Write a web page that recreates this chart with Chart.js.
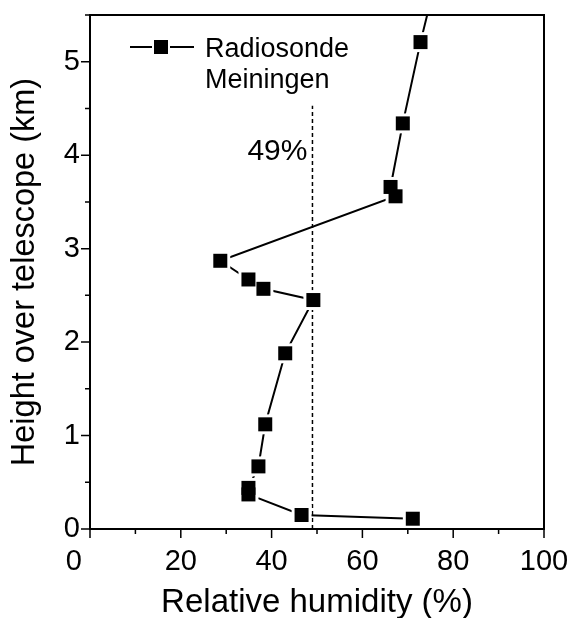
<!DOCTYPE html>
<html lang="en">
<head>
<meta charset="UTF-8">
<title>Relative humidity profile</title>
<style>
    html, body {
        margin: 0;
        padding: 0;
        background: #fff;
    }
    #wrap {
        width: 570px;
        height: 618px;
    }
</style>
</head>
<body>
<div id="wrap">
    <canvas id="humidityChart" width="570" height="618"></canvas>
</div>

<script src="https://cdn.jsdelivr.net/npm/chart.js"></script>
<script>
// radiosonde profile (first point lies above the frame)
const humidity = [76.8, 72.8, 68.9, 66.2, 67.3, 28.7, 34.9, 38.2, 49.2, 43.0, 38.6, 37.1, 34.9, 34.9, 46.6, 71.1];
const height   = [6.0, 5.21, 4.34, 3.66, 3.56, 2.87, 2.67, 2.57, 2.45, 1.88, 1.12, 0.67, 0.44, 0.37, 0.15, 0.11];

// 49 % reference line
const thresholdHumidity = 49;
const thresholdHeights = [0, 4.53];

const xLabels = [0, 20, 40, 60, 80, 100];
const yLabels = [0, 1, 2, 3, 4, 5];
const legendLines = ['Radiosonde', 'Meiningen'];

const FONT = "'Liberation Sans', Arial, Helvetica, sans-serif";

const profilePoints = humidity.map((h, i) => ({ x: h, y: height[i] }));
const thresholdPoints = thresholdHeights.map(v => ({ x: thresholdHumidity, y: v }));

// drop the label padding chart.js reserves, so the plot box is exactly where we want it
function noPadding(scale) {
    scale.paddingLeft = 0;
    scale.paddingRight = 0;
    scale.paddingTop = 0;
    scale.paddingBottom = 0;
}

// frame, outward ticks, legend and the 49% label
const decorations = {
    id: 'decorations',
    afterDatasetsDraw(chart) {
        const { ctx, chartArea: a, scales: { x, y } } = chart;
        ctx.save();
        ctx.strokeStyle = '#000';
        ctx.fillStyle = '#000';

        // frame
        ctx.lineWidth = 2;
        ctx.strokeRect(a.left, a.top, a.right - a.left, a.bottom - a.top);

        // tick marks, major ones longer
        ctx.lineWidth = 1.5;
        ctx.beginPath();
        x.ticks.forEach(t => {
            const px = x.getPixelForValue(t.value);
            const len = xLabels.includes(t.value) ? 9 : 5;
            ctx.moveTo(px, a.bottom);
            ctx.lineTo(px, a.bottom + len);
        });
        y.ticks.forEach(t => {
            const py = y.getPixelForValue(t.value);
            const len = yLabels.includes(t.value) ? 9 : 5;
            ctx.moveTo(a.left, py);
            ctx.lineTo(a.left - len, py);
        });
        ctx.stroke();

        // 49% label
        ctx.font = '30px ' + FONT;
        ctx.textAlign = 'right';
        ctx.textBaseline = 'middle';
        ctx.fillText(thresholdHumidity + '%', x.getPixelForValue(47.9), y.getPixelForValue(4.04));

        // legend
        const lx = a.left + 40, ly = a.top + 32;
        ctx.lineWidth = 2;
        ctx.beginPath();
        ctx.moveTo(lx, ly); ctx.lineTo(lx + 22, ly);
        ctx.moveTo(lx + 40, ly); ctx.lineTo(lx + 64, ly);
        ctx.stroke();
        ctx.fillRect(lx + 24, ly - 7, 14, 14);
        ctx.font = '27px ' + FONT;
        ctx.textAlign = 'left';
        ctx.textBaseline = 'alphabetic';
        legendLines.forEach((txt, i) => {
            ctx.fillText(txt, lx + 75, ly + 10 + i * 31);
        });
        ctx.restore();
    }
};

const ctx = document.getElementById('humidityChart').getContext('2d');
const humidityChart = new Chart(ctx, {
    type: 'scatter',
    data: {
        datasets: [{
            // black squares on top
            label: 'Radiosonde Meiningen',
            data: profilePoints,
            showLine: false,
            pointStyle: 'rect',
            pointRadius: 9.9,
            pointBackgroundColor: '#000',
            pointBorderWidth: 0,
            order: 0
        }, {
            // white halo that opens a small gap in the line around each square
            label: 'halo',
            data: profilePoints,
            showLine: false,
            pointStyle: 'rect',
            pointRadius: 14.1,
            pointBackgroundColor: '#fff',
            pointBorderWidth: 0,
            order: 1
        }, {
            label: 'profile line',
            data: profilePoints,
            showLine: true,
            borderColor: '#000',
            borderWidth: 2,
            pointRadius: 0,
            order: 2
        }, {
            label: '49%',
            data: thresholdPoints,
            showLine: true,
            borderColor: '#000',
            borderWidth: 1.5,
            borderDash: [4, 3],
            pointRadius: 0,
            order: 3
        }]
    },
    options: {
        responsive: false,
        animation: false,
        events: [],
        layout: {
            padding: { top: 15, right: 26, left: 0, bottom: 0 }
        },
        plugins: {
            legend: { display: false },
            tooltip: { enabled: false }
        },
        scales: {
            x: {
                type: 'linear',
                position: 'bottom',
                min: 0,
                max: 100,
                grid: { display: false, drawTicks: false },
                border: { display: false },
                ticks: {
                    stepSize: 10,
                    autoSkip: false,
                    maxRotation: 0,
                    padding: 16,
                    color: '#000',
                    font: { size: 29, family: FONT, lineHeight: 1.2 },
                    // label only the major ticks; the 0 sits a little to the left
                    callback: v => xLabels.includes(v) ? (v === 0 ? '0    ' : String(v)) : ''
                },
                title: {
                    display: true,
                    text: 'Relative humidity (%)',
                    color: '#000',
                    font: { size: 33, family: FONT, lineHeight: 0.9 },
                    padding: { top: 0, bottom: 0 }
                },
                afterFit(scale) {
                    scale.height = 89;
                    noPadding(scale);
                }
            },
            y: {
                type: 'linear',
                min: 0,
                max: 5.5,
                grid: { display: false, drawTicks: false },
                border: { display: false },
                ticks: {
                    stepSize: 0.5,
                    autoSkip: false,
                    padding: 10,
                    color: '#000',
                    font: { size: 29, family: FONT, lineHeight: 1.2 },
                    callback: v => yLabels.includes(v) ? String(v) : ''
                },
                title: {
                    display: true,
                    text: 'Height over telescope (km)',
                    color: '#000',
                    font: { size: 32.5, family: FONT, lineHeight: 1 },
                    padding: { top: 9, bottom: 0 }
                },
                afterFit(scale) {
                    scale.width = 90;
                    noPadding(scale);
                }
            }
        }
    },
    plugins: [decorations]
});
</script>
</body>
</html>
